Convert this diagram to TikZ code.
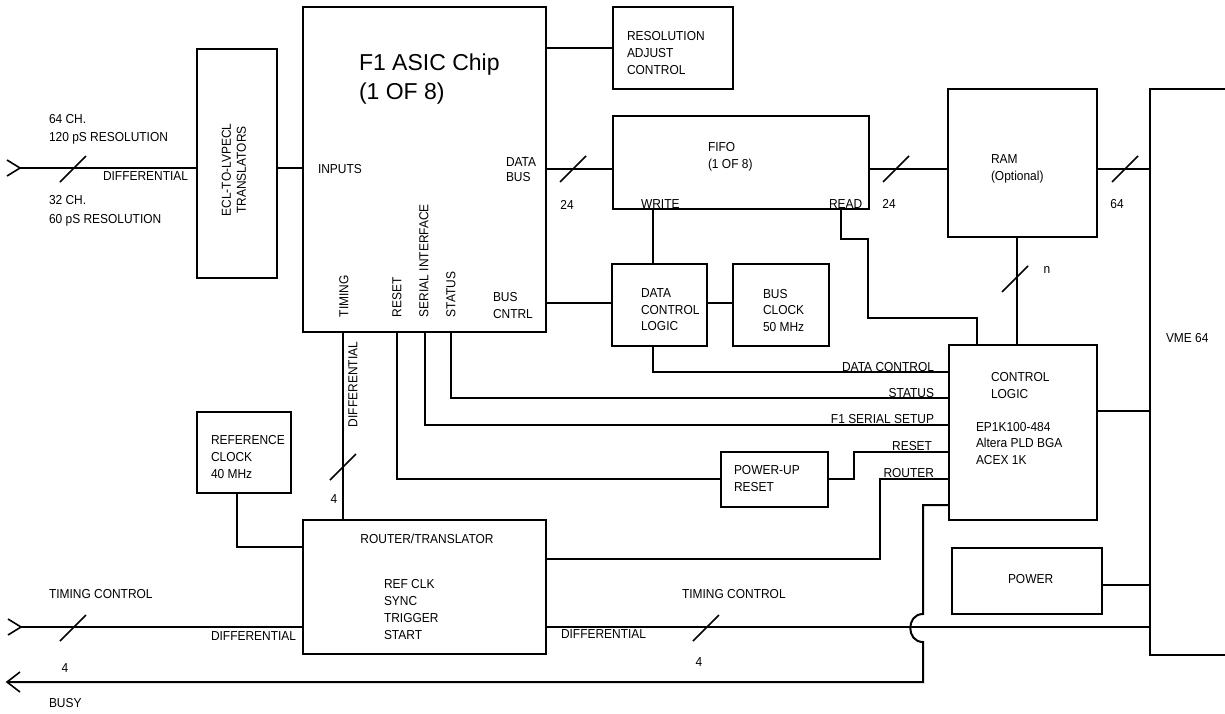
\documentclass[tikz,border=0pt]{standalone}
\usepackage{fontspec}
\setmainfont{Liberation Sans}[FakeStretch=0.92]
\newfontfamily\titlefont{Liberation Sans}
\usetikzlibrary{fit,calc}
\tikzset{
  slashmark/.pic={\draw[line width=0.8pt] (-13,13) -- (13,-13);},
  inchev/.pic={\draw[line width=0.8pt] (-13,-8) -- (0,0) -- (-13,8);},
  outchev/.pic={\draw[line width=0.8pt] (13,-10) -- (0,0) -- (13,10);},
}
\begin{document}
\begin{tikzpicture}[x=0.5pt,y=-0.5pt, line width=1pt,
  box/.style={draw, inner sep=0pt},
  lbl/.style={inner sep=0pt, font=\fontsize{6.5}{8.5}\selectfont, align=left},
  lblv/.style={lbl, rotate=90, anchor=west},
]
\useasboundingbox (0,0) rectangle (1225,713);

% ---------- boxes ----------
\node[box, fit={(197,49) (277,278)}] (ecl) {};
\node[box, fit={(303,7) (546,332)}] (f1) {};
\node[box, fit={(613,7) (733,89)}] (res) {};
\node[box, fit={(613,116) (869,209)}] (fifo) {};
\node[box, fit={(948,89) (1097,237)}] (ram) {};
\node[inner sep=0pt, fit={(1151,90) (1226,654)}] (vme) {};
\draw (vme.north east) -- (vme.north west) -- (vme.south west) -- (vme.south east);
\node[box, fit={(612,264) (707,346)}] (dcl) {};
\node[box, fit={(733,264) (829,346)}] (busclk) {};
\node[box, fit={(949,345) (1097,520)}] (ctrl) {};
\node[box, fit={(721,452) (828,507)}] (pwrup) {};
\node[box, fit={(197,412) (291,493)}] (refclk) {};
\node[box, fit={(303,520) (546,654)}] (router) {};
\node[box, fit={(952,548) (1102,614)}] (power) {};

% ---------- helper coordinates ----------
\coordinate (inL) at (20,168);
\coordinate (dby) at (0,169);
\coordinate (bcy) at (0,303);
\coordinate (wx) at (653,0);
\coordinate (rdx) at (841,0);
\coordinate (rdr) at (977,0);
\coordinate (rmx) at (1017,0);
\coordinate (dcy) at (0,372);
\coordinate (stx) at (451,0);
\coordinate (sty) at (0,398);
\coordinate (sex) at (425,0);
\coordinate (sey) at (0,425);
\coordinate (rsx) at (397,0);
\coordinate (rsy) at (0,479);
\coordinate (rcy) at (0,452);
\coordinate (roy) at (0,479);
\coordinate (rty) at (0,559);
\coordinate (buy) at (0,505);
\coordinate (busyL) at (7,682);
\coordinate (tcL) at (21,627);
\coordinate (pwy) at (0,585);
\coordinate (cvy) at (0,411);
\coordinate (rcx) at (237,0);
\coordinate (rcj) at (0,547);
\coordinate (tmx) at (343,0);

% ---------- connectors ----------
\draw (inL) -- (ecl.west |- inL);
\pic at (inL) {inchev};
\draw (ecl.east |- inL) -- (f1.west |- inL);
\draw (f1.east |- res.west) -- (res.west);
\draw (f1.east |- dby) -- (fifo.west |- dby);
\draw (fifo.east |- dby) -- (ram.west |- dby);
\draw (ram.east |- dby) -- (vme.west |- dby);
\draw (fifo.south -| wx) -- (dcl.north -| wx);
\draw (fifo.south -| rdx) -- ++(0,29) -| (868,318) -| (ctrl.north -| rdr);
\draw (ram.south -| rmx) -- (ctrl.north -| rmx);
\draw (f1.east |- bcy) -- (dcl.west |- bcy);
\draw (dcl.east |- bcy) -- (busclk.west |- bcy);
\draw (dcl.south -| wx) |- (ctrl.west |- dcy);
\draw (f1.south -| stx) |- (ctrl.west |- sty);
\draw (f1.south -| sex) |- (ctrl.west |- sey);
\draw (f1.south -| rsx) |- (pwrup.west |- rsy);
\draw (pwrup.east |- rsy) -| (854,452) -- (ctrl.west |- rcy);
\draw (ctrl.west |- roy) -| (880,559) -- (router.east |- rty);
\draw (ctrl.west |- buy) -| (923,614) .. controls (906,614) and (906,642) .. (923,642) |- (busyL);
\pic at (busyL) {outchev};
\draw (tcL) -- (router.west |- tcL);
\pic at (tcL) {inchev};
\draw (router.east |- tcL) -- (vme.west |- tcL);
\draw (power.east |- pwy) -- (vme.west |- pwy);
\draw (ctrl.east |- cvy) -- (vme.west |- cvy);
\draw (refclk.south -| rcx) |- (router.west |- rcj);
\draw (f1.south -| tmx) -- (router.north -| tmx);

% bus-width slashes
\pic at (73,169) {slashmark};
\pic at (573,169) {slashmark};
\pic at (896,169) {slashmark};
\pic at (1125,169) {slashmark};
\pic at (1015,279) {slashmark};
\pic at (343,467) {slashmark};
\pic at (73,628) {slashmark};
\pic at (706,628) {slashmark};

% ---------- texts ----------
\node[lbl, anchor=north west, font=\fontsize{6.5}{9}\selectfont] (t64) at (48,113) {64 CH.\\120 pS RESOLUTION};
\node[lbl, anchor=base west] (tdiff1) at (102,180) {DIFFERENTIAL};
\node[lbl, anchor=north west, font=\fontsize{6.5}{9.5}\selectfont] (t32) at (48,194) {32 CH.\\60 pS RESOLUTION};
\node[lbl, rotate=90, align=center, font=\fontsize{6.5}{7.5}\selectfont] (tecl) at (234,170) {ECL-TO-LVPECL\\TRANSLATORS};
\node[lbl, anchor=base west] (tin) at (317,173) {INPUTS};
\node[lbl, anchor=north west, font=\titlefont\fontsize{11.5}{14.5}\selectfont] (tf1) at (358,53) {F1 ASIC Chip\\(1 OF 8)};
\node[lbl, anchor=north west, font=\fontsize{6.5}{7.5}\selectfont] (tdb) at (505,157) {DATA\\BUS};
\node[lblv] (ttim) at (344,318) {TIMING};
\node[lblv] (trst) at (397,318) {RESET};
\node[lblv] (tser) at (424,318) {SERIAL INTERFACE};
\node[lblv] (tsta) at (451,318) {STATUS};
\node[lbl, anchor=north west] (tbc) at (492,291) {BUS\\CNTRL};
\node[lbl, anchor=north west] (tres) at (626,30) {RESOLUTION\\ADJUST\\CONTROL};
\node[lbl, anchor=north west] (tfifo) at (707,141) {FIFO\\(1 OF 8)};
\node[lbl, anchor=base west] (twr) at (640,208) {WRITE};
\node[lbl, anchor=base west] (trd) at (828,208) {READ};
\node[lbl, anchor=base] (t24a) at (567,209) {24};
\node[lbl, anchor=base] (t24b) at (889,208) {24};
\node[lbl, anchor=base] (t64b) at (1117,208) {64};
\node[lbl, anchor=north west] (tram) at (990,154) {RAM\\(Optional)};
\node[lbl, anchor=base] (tn) at (1047,273) {n};
\node[lbl, anchor=north west, font=\fontsize{6.5}{8.25}\selectfont] (tdcl) at (640,288) {DATA\\CONTROL\\LOGIC};
\node[lbl, anchor=north west, font=\fontsize{6.5}{8.25}\selectfont] (tbus) at (762,288) {BUS\\CLOCK\\50 MHz};
\node[lbl, anchor=base east] (tdc) at (935,371) {DATA CONTROL};
\node[lbl, anchor=base east] (tst) at (935,397) {STATUS};
\node[lbl, anchor=base east] (tss) at (935,423) {F1 SERIAL SETUP};
\node[lbl, anchor=base east] (trs2) at (933,450) {RESET};
\node[lbl, anchor=base east] (tro) at (935,477) {ROUTER};
\node[lbl, anchor=north west] (tcl) at (990,371) {CONTROL\\LOGIC};
\node[lbl, anchor=north west, font=\fontsize{6.5}{8.25}\selectfont] (tep) at (975,421) {EP1K100-484\\Altera PLD BGA\\ACEX 1K};
\node[lbl, anchor=base west] (tvme) at (1165,342) {VME 64};
\node[lbl, anchor=north west] (tpu) at (733,464) {POWER-UP\\RESET};
\node[lbl, anchor=north west] (trc) at (210,434) {REFERENCE\\CLOCK\\40 MHz};
\node[lbl, anchor=base] (t4a) at (334,503) {4};
\node[lblv] (tdiff2) at (353,428) {DIFFERENTIAL};
\node[lbl, anchor=base] (trt) at (427,543) {ROUTER/TRANSLATOR};
\node[lbl, anchor=north west] (trefs) at (383,578) {REF CLK\\SYNC\\TRIGGER\\START};
\node[lbl, anchor=base west] (ttc1) at (48,598) {TIMING CONTROL};
\node[lbl, anchor=base] (t4b) at (65,672) {4};
\node[lbl, anchor=base west] (tdiff3) at (210,640) {DIFFERENTIAL};
\node[lbl, anchor=base west] (tbusy) at (48,707) {BUSY};
\node[lbl, anchor=base west] (tdiff4) at (560,638) {DIFFERENTIAL};
\node[lbl, anchor=base west] (ttc2) at (681,598) {TIMING CONTROL};
\node[lbl, anchor=base] (t4c) at (699,666) {4};
\node[lbl, anchor=base west] (tpow) at (1007,583) {POWER};
\end{tikzpicture}
\end{document}
